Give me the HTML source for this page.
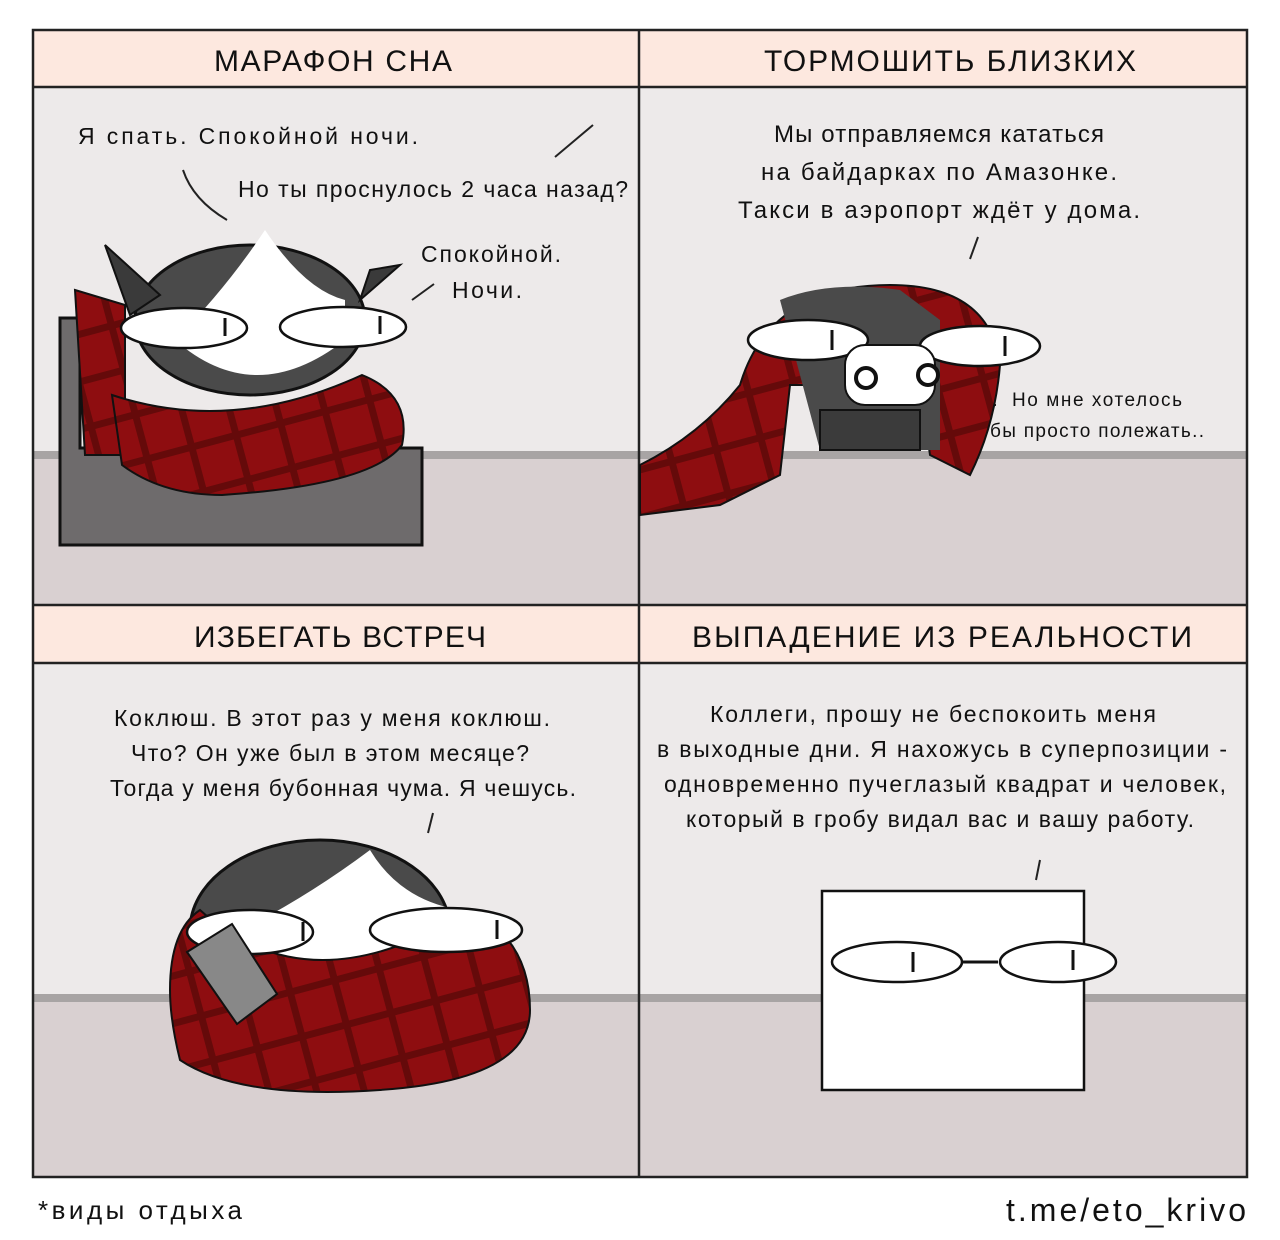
<!DOCTYPE html>
<html><head><meta charset="utf-8"><style>
html,body{margin:0;padding:0;background:#fff;}
svg{display:block}
text{font-family:"Liberation Sans","DejaVu Sans",sans-serif;fill:#111}
</style></head><body>
<svg width="1280" height="1240" viewBox="0 0 1280 1240" xmlns="http://www.w3.org/2000/svg">
<defs>
<pattern id="plaid" width="46" height="46" patternUnits="userSpaceOnUse" patternTransform="rotate(-15)">
<rect width="46" height="46" fill="#8e0d10"/>
<rect x="0" y="18" width="46" height="7" fill="#650a0a"/>
<rect x="20" y="0" width="7" height="46" fill="#650a0a"/>
</pattern>
</defs>
<rect width="1280" height="1240" fill="#fff"/>
<rect x="34" y="88" width="605" height="517" fill="#edeaea"/>
<rect x="34" y="458" width="605" height="147" fill="#d9d0d1"/>
<rect x="34" y="451" width="605" height="8" fill="#a8a4a4"/>
<rect x="639" y="88" width="607" height="517" fill="#edeaea"/>
<rect x="639" y="458" width="607" height="147" fill="#d9d0d1"/>
<rect x="639" y="451" width="607" height="8" fill="#a8a4a4"/>
<rect x="34" y="664" width="605" height="513" fill="#edeaea"/>
<rect x="34" y="1000" width="605" height="177" fill="#d9d0d1"/>
<rect x="34" y="994" width="605" height="8" fill="#a8a4a4"/>
<rect x="639" y="664" width="607" height="513" fill="#edeaea"/>
<rect x="639" y="1000" width="607" height="177" fill="#d9d0d1"/>
<rect x="639" y="994" width="607" height="8" fill="#a8a4a4"/>
<rect x="34" y="31" width="1212" height="56" fill="#fde8df"/>
<rect x="34" y="606" width="1212" height="57" fill="#fde8df"/>
<g stroke="#222" stroke-width="2.5" fill="none">
<rect x="33" y="30" width="1214" height="1147"/>
<line x1="639" y1="30" x2="639" y2="1177"/>
<line x1="33" y1="87" x2="1247" y2="87"/>
<line x1="33" y1="605" x2="1247" y2="605"/>
<line x1="33" y1="663" x2="1247" y2="663"/>
</g>
<g font-size="30" text-anchor="middle">
<text x="333" y="71" textLength="238">МАРАФОН СНА</text>
<text x="950" y="71" textLength="372">ТОРМОШИТЬ БЛИЗКИХ</text>
<text x="340" y="647" textLength="292">ИЗБЕГАТЬ ВСТРЕЧ</text>
<text x="942" y="647" textLength="500">ВЫПАДЕНИЕ ИЗ РЕАЛЬНОСТИ</text>
</g>
<g font-size="23">
<text x="78" y="144" textLength="340">Я спать. Спокойной ночи.</text>
<text x="238" y="197" textLength="390">Но ты проснулось 2 часа назад?</text>
<text x="421" y="262" textLength="140">Спокойной.</text>
<text x="452" y="298" textLength="70">Ночи.</text>
</g>
<g stroke="#222" stroke-width="2" fill="none">
<path d="M183 170 q10 30 44 50"/><path d="M555 157 l38 -32"/><path d="M412 300 l22 -16"/>
</g>
<path d="M60 318 h20 v130 h342 v97 h-362z" fill="#6e6b6c" stroke="#111" stroke-width="3"/>
<path d="M75 290 l50 15 v150 h-40 z" fill="url(#plaid)" stroke="#111" stroke-width="2"/>
<ellipse cx="250" cy="320" rx="115" ry="75" fill="#4a4a4a" stroke="#111" stroke-width="3"/>
<path d="M175 340 q80 70 170 0 l0 -40 q-40 -10 -80 -70 q-40 60 -90 110z" fill="#fff"/>
<path d="M105 245 l25 70 l30 -20z M400 265 l-40 35 l10 -30z" fill="#3a3a3a" stroke="#111" stroke-width="2"/>
<path d="M112 395 q120 40 250 -20 q50 20 40 70 q-30 40 -180 50 q-60 0 -100 -30z" fill="url(#plaid)" stroke="#111" stroke-width="2"/>
<ellipse cx="184" cy="328" rx="63" ry="20" fill="#fff" stroke="#111" stroke-width="2.5"/>
<ellipse cx="343" cy="327" rx="63" ry="20" fill="#fff" stroke="#111" stroke-width="2.5"/>
<line x1="225" y1="318" x2="225" y2="336" stroke="#111" stroke-width="3"/>
<line x1="380" y1="316" x2="380" y2="334" stroke="#111" stroke-width="3"/>
<g font-size="24" text-anchor="middle">
<text x="939" y="142" textLength="330">Мы отправляемся кататься</text>
<text x="939" y="180" textLength="356">на байдарках по Амазонке.</text>
<text x="939" y="218" textLength="402">Такси в аэропорт ждёт у дома.</text>
</g>
<g font-size="19"><text x="1012" y="406" textLength="170">Но мне хотелось</text><text x="990" y="437" textLength="214">бы просто полежать..</text></g>
<g stroke="#222" stroke-width="2" fill="none"><path d="M978 237 l-8 22"/><path d="M980 405 h16"/></g>
<path d="M640 515 v-50 q60 -30 100 -80 q30 -100 150 -100 q100 0 110 80 q-5 60 -30 110 l-40 -20 l-10 -70 h-130 l-10 90 l-60 30 z" fill="url(#plaid)" stroke="#111" stroke-width="2"/>
<path d="M780 300 q50 -20 120 -10 l40 30 v130 h-120z" fill="#4a4a4a"/>
<rect x="820" y="410" width="100" height="40" fill="#3b3b3b" stroke="#111" stroke-width="2"/>
<ellipse cx="808" cy="340" rx="60" ry="20" fill="#fff" stroke="#111" stroke-width="2.5"/>
<ellipse cx="980" cy="346" rx="60" ry="20" fill="#fff" stroke="#111" stroke-width="2.5"/>
<line x1="832" y1="330" x2="832" y2="350" stroke="#111" stroke-width="3"/>
<line x1="1005" y1="336" x2="1005" y2="356" stroke="#111" stroke-width="3"/>
<rect x="845" y="345" width="90" height="60" rx="20" fill="#fff" stroke="#111" stroke-width="2"/>
<circle cx="866" cy="378" r="10" fill="#fff" stroke="#111" stroke-width="4"/>
<circle cx="928" cy="375" r="10" fill="#fff" stroke="#111" stroke-width="4"/>
<g font-size="23" text-anchor="middle">
<text x="332" y="726" textLength="436">Коклюш. В этот раз у меня коклюш.</text>
<text x="330" y="761" textLength="398">Что? Он уже был в этом месяце?</text>
<text x="343" y="796" textLength="466">Тогда у меня бубонная чума. Я чешусь.</text>
</g>
<path d="M433 813 l-5 20" stroke="#222" stroke-width="2"/>
<ellipse cx="320" cy="930" rx="130" ry="90" fill="#4a4a4a" stroke="#111" stroke-width="3"/>
<path d="M200 950 q120 80 260 -10 l0 -30 q-60 -10 -90 -60 q-80 60 -170 100z" fill="#fff"/>
<path d="M170 990 q0 -60 30 -80 q110 100 270 0 q60 30 60 100 q0 70 -150 80 q-140 10 -200 -30 q-10 -40 -10 -70z" fill="url(#plaid)" stroke="#111" stroke-width="2"/>
<ellipse cx="250" cy="932" rx="63" ry="22" fill="#fff" stroke="#111" stroke-width="2.5"/>
<ellipse cx="446" cy="930" rx="76" ry="22" fill="#fff" stroke="#111" stroke-width="2.5"/>
<line x1="303" y1="922" x2="303" y2="941" stroke="#111" stroke-width="3"/>
<line x1="497" y1="920" x2="497" y2="939" stroke="#111" stroke-width="3"/>
<path d="M187 952 l45 -28 l45 70 l-40 30z" fill="#888" stroke="#111" stroke-width="2"/>
<g font-size="23" text-anchor="middle">
<text x="933" y="722" textLength="446">Коллеги, прошу не беспокоить меня</text>
<text x="942" y="757" textLength="570">в выходные дни. Я нахожусь в суперпозиции -</text>
<text x="945" y="792" textLength="562">одновременно пучеглазый квадрат и человек,</text>
<text x="940" y="827" textLength="508">который в гробу видал вас и вашу работу.</text>
</g>
<path d="M1040 860 l-4 20" stroke="#222" stroke-width="2"/>
<rect x="822" y="891" width="262" height="199" fill="#fff" stroke="#111" stroke-width="2.5"/>
<ellipse cx="897" cy="962" rx="65" ry="20" fill="#fff" stroke="#111" stroke-width="2.5"/>
<ellipse cx="1058" cy="962" rx="58" ry="20" fill="#fff" stroke="#111" stroke-width="2.5"/>
<line x1="962" y1="962" x2="998" y2="962" stroke="#111" stroke-width="3"/>
<line x1="913" y1="952" x2="913" y2="972" stroke="#111" stroke-width="3"/>
<line x1="1073" y1="950" x2="1073" y2="970" stroke="#111" stroke-width="3"/>
<text x="38" y="1219" font-size="26" textLength="204">*виды отдыха</text>
<text x="1246" y="1221" font-size="32" text-anchor="end" textLength="240">t.me/eto_krivo</text>
</svg>
</body></html>
